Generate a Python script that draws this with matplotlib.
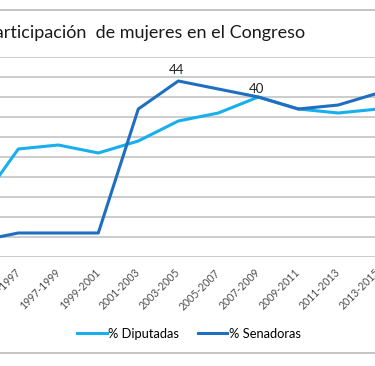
import matplotlib
matplotlib.use("Agg")
import matplotlib.pyplot as plt
from matplotlib.lines import Line2D

plt.rcParams['font.family'] = ['Lato', 'DejaVu Sans']

# legislative periods (chart is cropped, first and last only partly visible)
periods = ['1993-1995', '1995-1997', '1997-1999', '1999-2001', '2001-2003', '2003-2005',
           '2005-2007', '2007-2009', '2009-2011', '2011-2013', '2013-2015']
diputadas = [13, 27, 28, 26, 29, 34, 36, 40, 37, 36, 37]
senadoras = [4, 6, 6, 6, 37, 44, 42, 40, 37, 38, 41]
# data labels shown on the chart: (series, index)
labels = [('sen', 5), ('dip', 7)]

c_dip = '#17AFEC'
c_sen = '#1F6FC0'
grid_c = '#BFBFBF'

W, H = 375, 366
fig = plt.figure(figsize=(W / 100, H / 100), dpi=100)

# axes wider than the figure, so the picture looks cropped like the reference
ax = fig.add_axes([-100 / W, (H - 257) / H, 575 / W, 200 / H])
x = list(range(len(periods)))
ax.plot(x, diputadas, color=c_dip, lw=2.2, label='% Diputadas', solid_joinstyle='round')
ax.plot(x, senadoras, color=c_sen, lw=2.2, label='% Senadoras', solid_joinstyle='round')

ax.set_xlim(-1.9575, 12.4175)
ax.set_ylim(0, 50)
ax.set_yticks(range(0, 51, 5))
ax.yaxis.grid(True, color=grid_c, lw=1.1)
ax.set_axisbelow(True)
for s in ax.spines.values():
    s.set_visible(False)
ax.tick_params(axis='y', left=False, labelleft=False)
ax.tick_params(axis='x', length=0, pad=10, labelsize=7.6, labelcolor='#4d4d4d')
ax.set_xticks(x)
ax.set_xticklabels(periods, rotation=45, ha='right', va='center', rotation_mode='anchor')

for ser, i in labels:
    vals = senadoras if ser == 'sen' else diputadas
    off = 8 if ser == 'sen' else 6
    ax.annotate(f'{vals[i]}', (i, vals[i]), xytext=(-1.3, off), textcoords='offset points',
                ha='center', va='center', fontsize=9.5, color='#222222')

fig.text(305 / W, (H - 33) / H, 'Participación  de mujeres en el Congreso',
         ha='right', va='center', fontsize=13, color='#1a1a1a')

ax.legend(loc='center', bbox_to_anchor=(189 / W, (H - 334) / H), bbox_transform=fig.transFigure,
          ncol=2, frameon=False, fontsize=9.3, handlelength=2.3, handletextpad=0.15,
          columnspacing=1.4)

# chart border lines (top and bottom visible)
for yy in (10, 353):
    fig.add_artist(Line2D([0, 1], [(H - yy) / H] * 2, color='#BFBFBF', lw=1.3,
                          transform=fig.transFigure))

fig.savefig('out.png', dpi=100)
